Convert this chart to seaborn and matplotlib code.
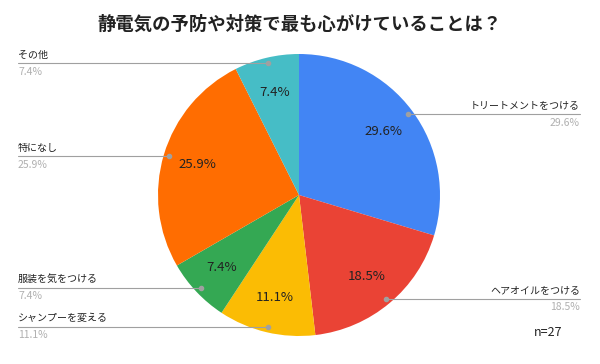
import matplotlib
matplotlib.use("Agg")
import matplotlib.pyplot as plt
import seaborn as sns
import numpy as np

# data
labels = ["トリートメントをつける", "ヘアオイルをつける", "シャンプーを変える",
          "服装を気をつける", "特になし", "その他"]
values = [29.6, 18.5, 11.1, 7.4, 25.9, 7.4]
colors = ["#4285F4", "#EA4335", "#FBBC04", "#34A853", "#FF6D01", "#46BDC6"]
title = "静電気の予防や対策で最も心がけていることは？"
n_text = "n=27"

sns.set_theme(style="white")
plt.rcParams["font.family"] = ["Noto Sans CJK JP", "DejaVu Sans"]

fig = plt.figure(figsize=(6, 3.64), dpi=100)
ax = fig.add_axes([0, 0, 1, 1])
px = 141.0  # pixels per unit radius
cx, cy = 299, 195

wedges, texts, autotexts = ax.pie(
    values, colors=colors, startangle=90, counterclock=False,
    autopct="%.1f%%", pctdistance=0.75, radius=1.0,
    wedgeprops=dict(linewidth=0), textprops=dict(fontsize=9.5, color="#222222"),
)

left_x = (18 - cx) / px
right_x = (580 - cx) / px
for w, lab, v in zip(wedges, labels, values):
    mid = np.deg2rad((w.theta1 + w.theta2) / 2)
    dx, dy = 0.96 * np.cos(mid), 0.96 * np.sin(mid)
    if dx >= 0:
        ex, ha = right_x, "right"
    else:
        ex, ha = left_x, "left"
    ax.plot([dx, ex], [dy, dy], color="#a0a0a0", lw=0.8)
    ax.plot(dx, dy, "o", color="#a0a0a0", ms=3)
    ax.text(ex, dy + 0.025, lab, ha=ha, va="bottom", fontsize=7.2, color="#222222")
    ax.text(ex, dy - 0.025, f"{v:.1f}%", ha=ha, va="top", fontsize=7.5, color="#b0b0b0")

ax.set_xlim(-cx / px, (600 - cx) / px)
ax.set_ylim(-(364 - cy) / px, cy / px)
ax.set_aspect("auto")
ax.axis("off")

fig.text(0.5, 1 - 24 / 364, title, ha="center", va="center",
         fontsize=13.2, fontweight="bold", color="#222222")
fig.text(548 / 600, 1 - 333 / 364, n_text, ha="center", va="center",
         fontsize=9, color="#222222")

fig.savefig("out.png", dpi=100)
